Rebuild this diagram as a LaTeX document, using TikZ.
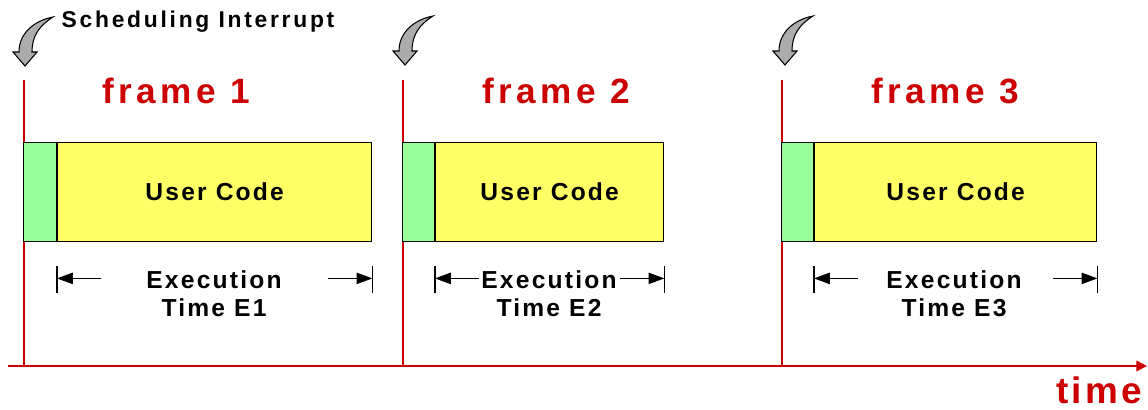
\documentclass[tikz,border=0pt]{standalone}
\usepackage{fontspec}
\setmainfont{Liberation Sans}
\newfontfamily\spaced[LetterSpace=9]{Liberation Sans}
\newfontfamily\widespaced[LetterSpace=12]{Liberation Sans}
\newfontfamily\titlespaced[LetterSpace=13]{Liberation Sans}
\usepackage{tikz}
\usetikzlibrary{arrows.meta}
\definecolor{framered}{rgb}{0.8,0,0}
\definecolor{usergreen}{rgb}{0.6,1,0.6}
\definecolor{useryellow}{rgb}{1,1,0.4}
\newcommand{\irqarrow}[1]{%
\begin{scope}[shift={#1}]
\filldraw[irq] (0,0)--(-12,-14)--(-6,-14) .. controls (-6,-32) and (8,-45) .. (28,-49)
  .. controls (14,-40) and (7,-30) .. (7,-14)--(12,-14)--cycle;
\end{scope}}
\tikzset{
redline/.style={framered,line width=0.8pt},
userbox/.style={draw,line width=0.8pt,fill=useryellow,minimum height=1.98cm,anchor=north west,
  font=\spaced\bfseries\fontsize{14}{16}\selectfont},
entrybox/.style={draw,line width=0.8pt,fill=usergreen,minimum height=1.98cm,anchor=north east},
frametitle/.style={text=framered,font=\titlespaced\bfseries\fontsize{20}{24}\selectfont},
exectext/.style={align=center,font=\spaced\bfseries\fontsize{14}{16}\selectfont},
dim/.style={line width=0.6pt},
dimarrow/.style={line width=0.6pt,-{Triangle[length=9pt,width=6.5pt]}},
irq/.style={draw=black,line width=0.6pt,fill=gray!65}
}
\begin{document}
\begin{tikzpicture}[x=0.02cm,y=-0.02cm]
\useasboundingbox (0,0) rectangle (1148,409);
% time axis
\coordinate (t0) at (8,366);
\coordinate (t1) at (1147,366);
\draw[redline,-{Triangle[length=6pt,width=6pt]}] (t0)--(t1);
\node[text=framered,font=\spaced\bfseries\fontsize{21}{24}\selectfont] (time) at (1099,390) {time};
% frame starts
\draw[redline] (24,80)--(24,366);
\draw[redline] (403,80)--(403,366);
\draw[redline] (782,80)--(782,366);
% scheduling interrupts
\irqarrow{(25,66)}
\irqarrow{(405,65)}
\irqarrow{(785,65)}
\node[font=\widespaced\bfseries\fontsize{13}{15}\selectfont] (irqlabel) at (198,22) {Scheduling Interrupt};
% frame titles
\node[frametitle] (f1) at (176,91) {frame 1};
\node[frametitle] (f2) at (556,91) {frame 2};
\node[frametitle] (f3) at (945,91) {frame 3};
% frame 1
\node[userbox,minimum width=6.28cm] (uc1) at (57,142) {User Code};
\node[entrybox,minimum width=0.66cm] (en1) at (uc1.north west) {};
\draw[dim] (uc1.south west) ++(0,24)--++(0,27);
\draw[dim] (uc1.south east) ++(0,24)--++(0,27);
\draw[dimarrow] (uc1.south west) ++(44,36)--++(-44,0);
\draw[dimarrow] (uc1.south east) ++(-44,36)--++(44,0);
\node[exectext] (ex1) at (214,294) {Execution\\Time E1};
% frame 2
\node[userbox,minimum width=4.56cm] (uc2) at (435,142) {User Code};
\node[entrybox,minimum width=0.64cm] (en2) at (uc2.north west) {};
\draw[dim] (uc2.south west) ++(0,24)--++(0,27);
\draw[dim] (uc2.south east) ++(0,24)--++(0,27);
\draw[dimarrow] (uc2.south west) ++(44,36)--++(-44,0);
\draw[dimarrow] (uc2.south east) ++(-44,36)--++(44,0);
\node[exectext] (ex2) at (549,294) {Execution\\Time E2};
% frame 3
\node[userbox,minimum width=5.64cm] (uc3) at (814,142) {User Code};
\node[entrybox,minimum width=0.64cm] (en3) at (uc3.north west) {};
\draw[dim] (uc3.south west) ++(0,24)--++(0,27);
\draw[dim] (uc3.south east) ++(0,24)--++(0,27);
\draw[dimarrow] (uc3.south west) ++(44,36)--++(-44,0);
\draw[dimarrow] (uc3.south east) ++(-44,36)--++(44,0);
\node[exectext] (ex3) at (954,294) {Execution\\Time E3};
\end{tikzpicture}
\end{document}
